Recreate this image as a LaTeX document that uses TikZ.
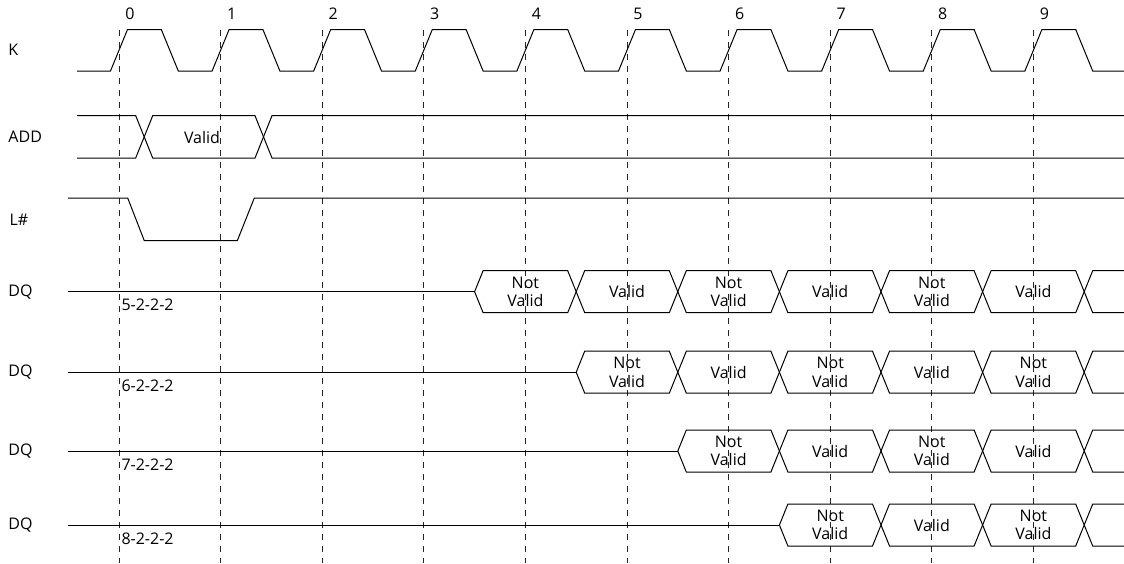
\documentclass[tikz,border=0pt]{standalone}
\usepackage{fontspec}
\setmainfont{Open Sans}

\begin{document}
\begin{tikzpicture}[x=1pt,y=-1pt,line width=1pt,
lbl/.style={font=\fontsize{16}{18.5}\selectfont, inner sep=0pt},
gridline/.style={black!85, line width=0.9pt, dash pattern=on 6pt off 6pt}
]
\useasboundingbox (0,0) rectangle (1124,563);
\def\T{101.6} % Clock period
\def\xo{119} % First rising edge of K
\def\e{8.5} % Half width of an edge
\def\h{21} % Half height of a bus

% Clock edges and their numbers
\foreach \k in {0,...,9} {
\draw[gridline] ({\xo+\k*\T},30) -- ({\xo+\k*\T},563);
\node[lbl] (n\k) at ({\xo+\k*\T+11},14) {\k};
}

% K
\node[lbl,anchor=west] (K) at (8,50) {K};
\draw (77,71) \foreach \k in {0,...,9} {-- ({\xo+\k*\T-\e},71) -- ({\xo+\k*\T+\e},29.5) -- ({\xo+(\k+.5)*\T-\e},29.5) -- ({\xo+(\k+.5)*\T+\e},71)} -- (1124,71);

% ADD
\node[lbl,anchor=west] (ADD) at (8,137) {ADD};
\draw (77,115.7) -- (135.7,115.7) -- (152.7,158) -- (255,158) -- (272,115.7) -- (1124,115.7);
\draw (77,158) -- (135.7,158) -- (152.7,115.7) -- (255,115.7) -- (272,158) -- (1124,158);
\node[lbl] (addvalid) at (202,137) {Valid};

% L#
\node[lbl,anchor=west] (L) at (9,220) {L\#};
\draw (68,198) -- (127.7,198) -- (144.3,240.7) -- (237.3,240.7) -- (254.3,198) -- (1124,198);

% DQ --> one row for each latency
\foreach \r/\yc/\lat in {0/291.7/5, 1/372.2/6, 2/451/7, 3/525/8} {
\pgfmathsetmacro\s{\xo+(\r+3.5)*\T}
\pgfmathtruncatemacro\st{\r+3}
\node[lbl,anchor=west] (dq\r) at (8,\yc) {DQ};
\node[lbl,anchor=west] (lat\r) at (121,\yc+13.5) {\lat-2-2-2};
\draw (68,\yc) -- (\s,\yc);
\foreach \c in {\st,...,8} {
\pgfmathsetmacro\a{\xo+(\c+.5)*\T}
\pgfmathsetmacro\b{\a+\T}
\pgfmathtruncatemacro\kind{mod(\c+\r+1,2)}
\ifnum\kind=0 \def\txt{Not\\Valid}\else\def\txt{Valid}\fi
\draw (\a,\yc) -- (\a+\e,\yc-\h) -- (\b-\e,\yc-\h) -- (\b,\yc) -- (\b-\e,\yc+\h) -- (\a+\e,\yc+\h) -- cycle;
\node[lbl,align=center] (cell\r\c) at ({\xo+(\c+1)*\T},\yc) {\txt};
}
% Open end
\pgfmathsetmacro\a{\xo+9.5*\T}
\draw (1124,\yc-\h) -- (\a+\e,\yc-\h) -- (\a,\yc) -- (\a+\e,\yc+\h) -- (1124,\yc+\h);
}
\end{tikzpicture}
\end{document}
